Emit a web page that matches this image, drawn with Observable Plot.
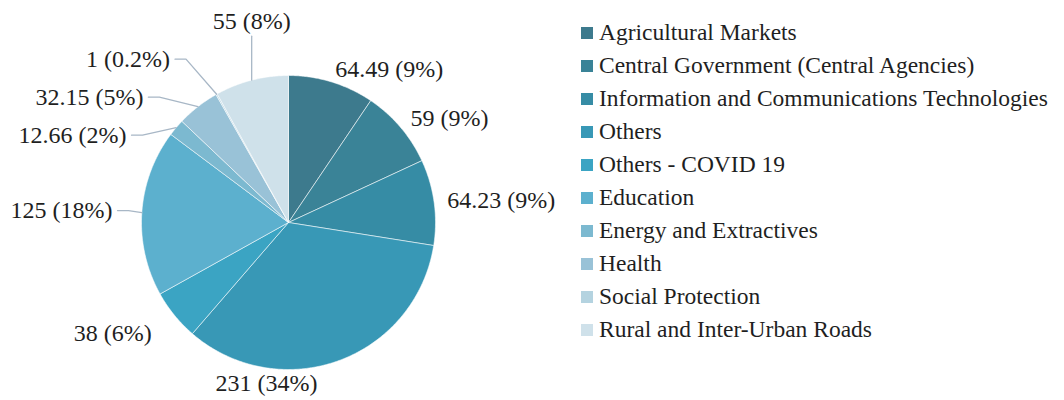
<!DOCTYPE html>
<html>
<head>
<meta charset="utf-8">
<script src="https://cdn.jsdelivr.net/npm/d3@7"></script>
<script src="https://cdn.jsdelivr.net/npm/@observablehq/plot@0.6"></script>
<style>
  body { margin: 0; background: #ffffff; }
  #wrap { display: flex; width: 1064px; height: 400px; overflow: hidden; }
  #chart { width: 578px; height: 400px; }
  #legend { font-family: "Liberation Serif", "Times New Roman", serif; font-size: 23.5px; color: #1f1f1f; padding-top: 16px; padding-left: 3px; }
  .item { display: flex; align-items: center; height: 33px; white-space: nowrap; }
  .sw { width: 12px; height: 12px; margin-right: 6px; flex: none; }
</style>
</head>
<body>
<div id="wrap"><div id="chart"></div><div id="legend"></div></div>
<script>
// ---- data ----
const sectors = [
  "Agricultural Markets",
  "Central Government (Central Agencies)",
  "Information and Communications Technologies",
  "Others",
  "Others - COVID 19",
  "Education",
  "Energy and Extractives",
  "Health",
  "Social Protection",
  "Rural and Inter-Urban Roads"
];
const values = [64.49, 59, 64.23, 231, 38, 125, 12.66, 32.15, 1, 55];
const valueLabels = ["64.49", "59", "64.23", "231", "38", "125", "12.66", "32.15", "1", "55"];
const percentLabels = ["9%", "9%", "9%", "34%", "6%", "18%", "2%", "5%", "0.2%", "8%"];
const colors = ["#3d7a8d", "#3a8397", "#368ca5", "#3898b6", "#3ba4c3", "#5cb0ce", "#7cb9d0", "#99c2d7", "#b4d3e0", "#cfe1ea"];

// ---- layout constants ----
const W = 578, H = 400, CX = 288, CY = 222, RP = 147;
const FONT = "'Liberation Serif', 'Times New Roman', serif";
const R_RIGHT = 1.09, R_LEFT = 1.2, GAP = 38 / RP;

const pie = d3.pie().sort(null).value(d => d)(values);

// slice polygons (unit circle coordinates, y up)
const slices = [];
pie.forEach((p, i) => {
  const n = Math.max(2, Math.ceil((p.endAngle - p.startAngle) / (Math.PI / 360)));
  slices.push({name: sectors[i], x: 0, y: 0});
  for (let k = 0; k <= n; k++) {
    const a = p.startAngle + (p.endAngle - p.startAngle) * k / n;
    slices.push({name: sectors[i], x: Math.sin(a), y: Math.cos(a)});
  }
  slices.push({name: sectors[i], x: 0, y: 0});
});

// labels
const labels = pie.map((p, i) => {
  const a = (p.startAngle + p.endAngle) / 2;
  const s = Math.sin(a), c = Math.cos(a);
  const text = `${valueLabels[i]} (${percentLabels[i]})`;
  let o = {i, a, text, ax: s, ay: c, moved: false};
  if (p.startAngle < Math.PI && p.endAngle > Math.PI) {
    o.anchor = "middle"; o.x = -0.15; o.y = -(1 + 14 / RP); o.side = "bottom";
  } else if (s >= 0) {
    o.anchor = "start"; o.x = R_RIGHT * s; o.y = R_RIGHT * c; o.side = "right";
  } else if (Math.abs(s) < 0.3) {
    o.anchor = "middle"; o.x = s; o.y = R_LEFT * c; o.side = "left";
  } else {
    o.anchor = "end"; o.x = R_LEFT * s; o.y = R_LEFT * c; o.side = "left";
  }
  o.y0 = o.y;
  return o;
});

// relax left-side labels vertically
const left = labels.filter(d => d.side === "left");
for (let it = 0; it < 300; it++) {
  left.sort((a, b) => b.y - a.y);
  for (let k = 0; k < left.length - 1; k++) {
    const u = left[k], l = left[k + 1];
    const g = u.y - l.y;
    if (g < GAP) { const d = (GAP - g) / 2; u.y += d; l.y -= d; }
  }
}
left.forEach(d => {
  if (Math.abs(d.y - d.y0) > 0.01) {
    d.moved = true;
    if (d.anchor === "end") {
      const b = 1.25 * R_LEFT;
      d.x = -R_LEFT * Math.sqrt(Math.max(0, 1 - (d.y / b) ** 2));
    }
  }
});

// leader lines for upper-left labels (elbowed)
const leaders = [];
left.filter(d => d.ay > 0).forEach(d => {
  if (d.anchor === "middle") {
    leaders.push({id: d.i, x: d.ax, y: d.ay});
    leaders.push({id: d.i, x: d.x, y: d.y - 15 / RP});
  } else {
    leaders.push({id: d.i, x: d.x + 5 / RP, y: d.y});
    leaders.push({id: d.i, x: d.x + 16 / RP, y: d.y});
    leaders.push({id: d.i, x: d.ax, y: d.ay});
  }
});

const chart = Plot.plot({
  width: W, height: H, margin: 0,
  style: {background: "#ffffff", fontFamily: FONT},
  x: {domain: [-1, 1], range: [CX - RP, CX + RP], axis: null},
  y: {domain: [-1, 1], range: [CY + RP, CY - RP], axis: null},
  color: {domain: sectors, range: colors},
  marks: [
    Plot.line(slices, {x: "x", y: "y", z: "name", fill: "name", stroke: "#ffffff", strokeOpacity: 0.55, strokeWidth: 1, curve: "linear"}),
    Plot.line(leaders, {x: "x", y: "y", z: "id", stroke: "#a8b7c6", strokeWidth: 1.3}),
    ...["start", "end", "middle"].map(an =>
      Plot.text(labels.filter(d => d.anchor === an), {
        x: "x", y: "y", text: "text", textAnchor: an, lineAnchor: "middle",
        fontSize: 24, fontFamily: FONT, fill: "#1f1f1f"
      }))
  ]
});
document.getElementById("chart").appendChild(chart);

// legend
const lg = document.getElementById("legend");
sectors.forEach((s, i) => {
  const it = document.createElement("div");
  it.className = "item";
  const sw = document.createElement("span");
  sw.className = "sw"; sw.style.background = colors[i];
  const tx = document.createElement("span");
  tx.textContent = s;
  it.appendChild(sw); it.appendChild(tx);
  lg.appendChild(it);
});
</script>
</body>
</html>
